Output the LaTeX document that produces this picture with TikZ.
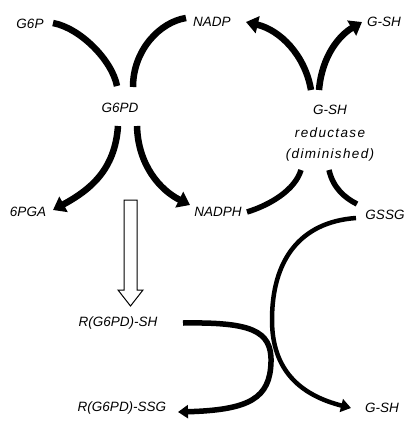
\documentclass[tikz,border=0pt]{standalone}
\usepackage{fontspec}
\setmainfont{Liberation Sans}
\newfontfamily\hand{Liberation Sans}
\newcommand{\spaced}[1]{{\addfontfeature{LetterSpace=10}#1}}
\usetikzlibrary{arrows.meta}
\begin{document}
\begin{tikzpicture}[x=1pt,y=-1pt,
  lbl/.style={inner sep=1pt,font=\hand\itshape\fontsize{13.5}{15}\selectfont},
  thickarc/.style={line width=6.5pt,line cap=butt},
  midarc/.style={line width=5.5pt,line cap=butt},
  thinarc/.style={line width=4.5pt,line cap=butt},
  bigtip/.style={-{Triangle[length=12pt,width=17pt]}},
  smalltip/.style={-{Triangle[length=10pt,width=13pt]}},
  openarrow/.style={draw=black,fill=white,line width=1pt,line join=miter}]
\useasboundingbox (0,0) rectangle (408,421);
% labels
\node[lbl] (g6p) at (30,24) {G6P};
\node[lbl] (nadp) at (212,22) {NADP};
\node[lbl] (gshT) at (384,22) {G-SH};
\node[lbl] (g6pd) at (120,108) {G6PD};
\node[lbl,align=center] (red) at (330,133) {G-SH\\[8pt]\spaced{reductase}\\[6pt]\spaced{(diminished)}};
\node[lbl] (pga) at (28,212) {6PGA};
\node[lbl] (nadph) at (218,212) {NADPH};
\node[lbl] (gssg) at (385,215) {GSSG};
\node[lbl] (rsh) at (118,323) {R(G6PD)-SH};
\node[lbl] (rssg) at (122,408) {R(G6PD)-SSG};
\node[lbl] (gshB) at (382,408) {G-SH};
% ports
\coordinate (g6pOut) at (53,23);
\coordinate (g6pdTL) at (117,86);
\coordinate (g6pdTR) at (133,87);
\coordinate (nadpIn) at (186,18);
\coordinate (g6pdBL) at (118,126);
\coordinate (g6pdBR) at (137,126);
\coordinate (pgaIn) at (53,210);
\coordinate (nadphIn) at (190,205);
\coordinate (redTL) at (311,90);
\coordinate (redTR) at (319,90);
\coordinate (nadpOut) at (246,22);
\coordinate (gshTIn) at (362,22);
\coordinate (redBL) at (301,170);
\coordinate (redBR) at (329,170);
\coordinate (nadphOut) at (247,212);
\coordinate (gssgIn) at (357,204);
\coordinate (gssgOut) at (356,218);
\coordinate (gshBIn) at (351,408);
\coordinate (rshOut) at (183,323);
\coordinate (rssgIn) at (178,412);
% G6PD reaction
\draw[thickarc] (g6pOut) .. controls (80,28) and (112,60) .. (g6pdTL);
\draw[thickarc] (g6pdTR) .. controls (133,50) and (160,22) .. (nadpIn);
\draw[thickarc,bigtip] (g6pdBL) .. controls (115,170) and (90,190) .. (pgaIn);
\draw[thickarc,bigtip] (g6pdBR) .. controls (138,165) and (160,190) .. (nadphIn);
% G-SH reductase reaction
\draw[thickarc,bigtip] (redTL) .. controls (305,55) and (280,30) .. (nadpOut);
\draw[thickarc,bigtip] (redTR) .. controls (322,55) and (340,35) .. (gshTIn);
\draw[midarc] (redBL) .. controls (295,190) and (270,205) .. (nadphOut);
\draw[midarc] (redBR) .. controls (333,188) and (345,198) .. (gssgIn);
% lower crossing
\draw[thinarc,smalltip] (gssgOut) .. controls (300,222) and (272,260) .. (272,320)
  .. controls (272,370) and (300,395) .. (gshBIn);
\draw[midarc,smalltip] (rshOut) .. controls (250,322) and (272,330) .. (271,362)
  .. controls (270,398) and (250,410) .. (rssgIn);
% open arrow
\draw[openarrow] (124,200) -- (137,200) -- (137,290) -- (143,290) -- (130.5,306)
  -- (118,290) -- (124,290) -- cycle;
\end{tikzpicture}
\end{document}
